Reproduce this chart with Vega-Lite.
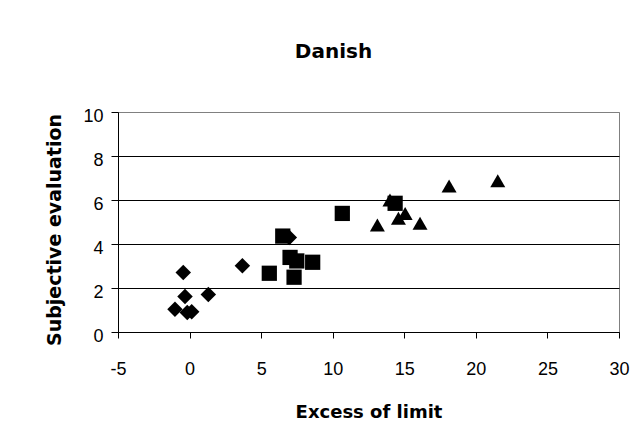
{
  "$schema": "https://vega.github.io/schema/vega-lite/v6.json",
  "width": 501,
  "height": 220,
  "autosize": {"type": "none"},
  "padding": {"left": 118, "top": 112, "right": 21, "bottom": 114},
  "background": "white",
  "title": {
    "text": "Danish",
    "font": "DejaVu Sans",
    "fontWeight": "bold",
    "fontSize": 20,
    "color": "black",
    "anchor": "middle",
    "dx": -35,
    "offset": 29,
    "baseline": "alphabetic"
  },
  "data": {
    "values": [
      {"series": "A", "x": -1.02, "y": 1.03},
      {"series": "A", "x": -0.44, "y": 2.70},
      {"series": "A", "x": -0.32, "y": 1.61},
      {"series": "A", "x": -0.16, "y": 0.89},
      {"series": "A", "x": 0.15, "y": 0.92},
      {"series": "A", "x": 1.31, "y": 1.71},
      {"series": "A", "x": 3.69, "y": 3.01},
      {"series": "A", "x": 6.97, "y": 4.30},
      {"series": "B", "x": 5.57, "y": 2.67},
      {"series": "B", "x": 6.51, "y": 4.36},
      {"series": "B", "x": 7.02, "y": 3.39},
      {"series": "B", "x": 7.49, "y": 3.23},
      {"series": "B", "x": 7.30, "y": 2.49},
      {"series": "B", "x": 8.60, "y": 3.17},
      {"series": "B", "x": 10.67, "y": 5.39},
      {"series": "B", "x": 14.36, "y": 5.85},
      {"series": "C", "x": 13.12, "y": 4.86},
      {"series": "C", "x": 14.0, "y": 6.0},
      {"series": "C", "x": 14.59, "y": 5.17},
      {"series": "C", "x": 15.06, "y": 5.39},
      {"series": "C", "x": 16.1, "y": 4.94},
      {"series": "C", "x": 18.13, "y": 6.64},
      {"series": "C", "x": 21.53, "y": 6.88}
    ]
  },
  "mark": {"type": "point", "filled": true, "color": "black", "opacity": 1, "strokeWidth": 0},
  "encoding": {
    "x": {
      "field": "x",
      "type": "quantitative",
      "scale": {"domain": [-5, 30], "nice": false, "zero": false},
      "axis": {
        "title": "Excess of limit",
        "values": [-5, 0, 5, 10, 15, 20, 25, 30],
        "labelExpr": "datum.value < 0 ? '-' + abs(datum.value) : '' + datum.value",
        "grid": false,
        "labelFlush": false,
        "labelOverlap": false,
        "domainColor": "black",
        "tickColor": "black",
        "tickSize": 6,
        "labelFont": "Liberation Sans",
        "labelFontSize": 18,
        "labelColor": "black",
        "labelBaseline": "alphabetic",
        "labelPadding": 36,
        "titleFont": "DejaVu Sans",
        "titleFontSize": 18,
        "titleFontWeight": "bold",
        "titleColor": "black",
        "titleBaseline": "alphabetic",
        "titleY": 85
      }
    },
    "y": {
      "field": "y",
      "type": "quantitative",
      "scale": {"domain": [0, 10], "nice": false},
      "axis": {
        "title": "Subjective evaluation",
        "values": [0, 2, 4, 6, 8, 10],
        "grid": true,
        "gridColor": {"condition": {"test": "datum.value === 10", "value": "#808080"}, "value": "black"},
        "gridOpacity": 1,
        "labelFlush": false,
        "labelOverlap": false,
        "domainColor": "black",
        "tickColor": "black",
        "tickSize": 7,
        "labelFont": "Liberation Sans",
        "labelFontSize": 18,
        "labelColor": "black",
        "labelBaseline": "alphabetic",
        "labelOffset": 9,
        "labelPadding": 8,
        "titleFont": "DejaVu Sans",
        "titleFontSize": 19,
        "titleFontWeight": "bold",
        "titleColor": "black",
        "titleBaseline": "alphabetic",
        "titleAngle": 270,
        "titleAlign": "center",
        "titleX": -58,
        "titleY": 117.5
      }
    },
    "shape": {
      "field": "series",
      "type": "nominal",
      "scale": {"domain": ["A", "B", "C"], "range": ["diamond", "square", "triangle-up"]},
      "legend": null
    },
    "size": {
      "field": "series",
      "type": "nominal",
      "scale": {"domain": ["A", "B", "C"], "range": [240, 225, 324]},
      "legend": null
    }
  },
  "config": {
    "view": {"stroke": "#808080", "strokeWidth": 1}
  }
}
